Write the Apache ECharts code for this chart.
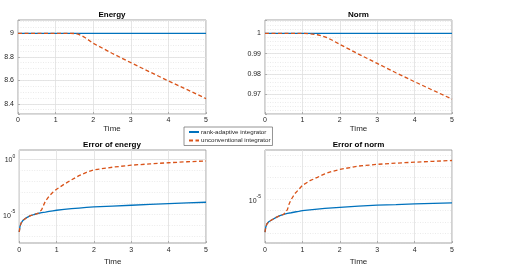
<!DOCTYPE html>
<html>
<head>
<meta charset="utf-8">
<script src="https://cdn.jsdelivr.net/npm/echarts@6/dist/echarts.min.js"></script>
<style>
html,body{margin:0;padding:0;background:#fff;}
#chart{width:506px;height:274px;}
</style>
</head>
<body>
<div id="chart"></div>
<script>
// ---- data ----
var seriesNames = ['rank-adaptive integrator', 'unconventional integrator'];
var timeTicks = [0, 1, 2, 3, 4, 5];

// top plots
var topTime = [0, 0.5, 1.0, 1.2, 1.4, 1.5, 1.6, 1.7, 1.8, 2.0, 2.5, 3.0, 3.5, 4.0, 4.5, 5.0];
var energyRank = [9, 9, 9, 9, 9, 9, 9, 9, 9, 9, 9, 9, 9, 9, 9, 9];
var energyUnconv = [9, 9, 9, 9, 8.9995, 8.998, 8.992, 8.978, 8.96, 8.915, 8.83, 8.75, 8.672, 8.594, 8.52, 8.444];
var normRank = [1, 1, 1, 1, 1, 1, 1, 1, 1, 1, 1, 1, 1, 1, 1, 1];
var normUnconv = [1, 1, 1, 0.9998, 0.9993, 0.9989, 0.9983, 0.9975, 0.9966, 0.99458, 0.9898, 0.9852, 0.9806, 0.9762, 0.9719, 0.96764];
var energyTicks = [8.4, 8.6, 8.8, 9];
var normTicks = [0.97, 0.98, 0.99, 1];

// bottom plots (errors, log scale)
var errTime = [0, 0.02, 0.05, 0.1, 0.2, 0.3, 0.4, 0.5, 0.55, 0.6, 0.65, 0.7, 0.8, 0.9, 1.0, 1.2, 1.4, 1.6, 1.8, 2.0, 2.5, 3.0, 3.5, 4.0, 4.5, 5.0];
var energyErrRank = [2.5e-7, 7.9e-7, 1.6e-6, 2.8e-6, 5.0e-6, 7.4e-6, 9.5e-6, 1.17e-5, 1.27e-5, 1.38e-5, 1.47e-5, 1.58e-5, 1.82e-5, 2.05e-5, 2.3e-5, 2.7e-5, 3.15e-5, 3.6e-5, 4.1e-5, 4.6e-5, 5.5e-5, 6.5e-5, 7.8e-5, 9.1e-5, 1.05e-4, 1.2e-4];
var energyErrUnconv = [2.5e-7, 7.9e-7, 1.6e-6, 2.8e-6, 5.0e-6, 7.4e-6, 9.5e-6, 1.17e-5, 1.32e-5, 2.5e-5, 6.3e-5, 1.5e-4, 4.3e-4, 9.5e-4, 1.8e-3, 5.0e-3, 1.26e-2, 3.0e-2, 6.0e-2, 0.1, 0.174, 0.263, 0.347, 0.437, 0.537, 0.63];
var normErrRank = [1.15e-8, 3.2e-8, 6.3e-8, 1.0e-7, 1.6e-7, 2.5e-7, 3.6e-7, 4.7e-7, 5.2e-7, 5.6e-7, 6.0e-7, 6.5e-7, 7.6e-7, 8.7e-7, 1.0e-6, 1.2e-6, 1.4e-6, 1.6e-6, 1.8e-6, 2.0e-6, 2.6e-6, 3.1e-6, 3.5e-6, 4.1e-6, 4.6e-6, 5.0e-6];
var normErrUnconv = [1.15e-8, 3.2e-8, 6.3e-8, 1.0e-7, 1.6e-7, 2.5e-7, 3.6e-7, 4.7e-7, 6.0e-7, 1.26e-6, 4.5e-6, 1.0e-5, 3.5e-5, 7.9e-5, 1.9e-4, 5.0e-4, 1.0e-3, 2.1e-3, 3.5e-3, 5.2e-3, 1.05e-2, 1.5e-2, 1.9e-2, 2.35e-2, 2.8e-2, 3.3e-2];
var energyErrTicks = [1, 1e-5];
var normErrTicks = [1e-5];
var titles = ['Energy', 'Norm', 'Error of energy', 'Error of norm'];

// ---- chart ----
var FONT = '"Liberation Sans", Arial, Helvetica, sans-serif';
var BLUE = '#0072BD', ORANGE = '#D95319';
var TXT = '#262626';
var MAJ = '#e0e0e0', MIN = '#d6d6d6';

function zip(xs, ys) { return xs.map(function (x, i) { return [x, ys[i]]; }); }
function supLabel(v) {
  var e = Math.round(Math.log10(v));
  return '{b|10}{s|' + e + '}';
}
function inList(v, list, tol) {
  for (var i = 0; i < list.length; i++) if (Math.abs(v - list[i]) < tol) return true;
  return false;
}

var grids = [
  {left: 18, top: 20, width: 188, height: 94},
  {left: 265, top: 20, width: 187, height: 94},
  {left: 18, top: 150, width: 188, height: 93},
  {left: 265, top: 150, width: 187, height: 93}
].map(function (g) {
  g.show = true; g.borderColor = '#8a8a8a'; g.borderWidth = 0.8; g.backgroundColor = 'transparent';
  return g;
});

function xAxisFor(i, bottomRow) {
  return {
    type: 'value', gridIndex: i, min: 0, max: 5, interval: 1,
    name: 'Time', nameLocation: 'middle', nameGap: bottomRow ? 14.5 : 8.5,
    nameTextStyle: {fontSize: 8, color: TXT, fontFamily: FONT},
    axisLine: {show: false},
    axisTick: {show: true, inside: true, length: 2, lineStyle: {color: '#8a8a8a', width: 0.6}},
    axisLabel: {fontSize: 7, color: TXT, fontFamily: FONT, margin: bottomRow ? 4 : 3,
      formatter: function (v) { return inList(v, timeTicks, 1e-6) ? String(v) : ''; }},
    splitLine: {show: true, lineStyle: {color: MAJ, width: 0.8}}
  };
}

var yLabelStyle = {fontSize: 7, color: TXT, fontFamily: FONT, margin: 4};

var yAxes = [
  // 0: energy major
  {type: 'value', gridIndex: 0, min: 8.313, max: 9.113, splitNumber: 5, position: 'left',
   axisLine: {show: false}, axisTick: {show: true, inside: true, length: 2, lineStyle: {color: '#8a8a8a', width: 0.6}},
   axisLabel: Object.assign({}, yLabelStyle, {formatter: function (v) { return inList(v, energyTicks, 1e-6) ? String(+v.toFixed(2)) : ''; }}),
   splitLine: {show: true, lineStyle: {color: MAJ, width: 0.8}}, z: 3},
  // 1: energy minor grid
  {type: 'value', gridIndex: 0, min: 8.313, max: 9.113, splitNumber: 16, position: 'left',
   axisLine: {show: false}, axisTick: {show: false}, axisLabel: {show: false},
   splitLine: {show: true, lineStyle: {color: MIN, width: 0.5, type: [1, 1.5]}}, z: 2},
  // 2: norm major
  {type: 'value', gridIndex: 1, min: 0.96032, max: 1.00656, splitNumber: 5, position: 'left',
   axisLine: {show: false}, axisTick: {show: true, inside: true, length: 2, lineStyle: {color: '#8a8a8a', width: 0.6}},
   axisLabel: Object.assign({}, yLabelStyle, {formatter: function (v) { return inList(v, normTicks, 1e-7) ? String(+v.toFixed(2)) : ''; }}),
   splitLine: {show: true, lineStyle: {color: MAJ, width: 0.8}}, z: 3},
  // 3: norm minor grid
  {type: 'value', gridIndex: 1, min: 0.96032, max: 1.00656, splitNumber: 23, position: 'left',
   axisLine: {show: false}, axisTick: {show: false}, axisLabel: {show: false},
   splitLine: {show: true, lineStyle: {color: MIN, width: 0.5, type: [1, 1.5]}}, z: 2},
  // 4: energy error log
  {type: 'log', logBase: 10, gridIndex: 2, min: 2.57e-8, max: 6.15, splitNumber: 8,
   axisLine: {show: false}, axisTick: {show: false},
   axisLabel: {fontSize: 7, color: TXT, fontFamily: FONT, margin: 4,
     formatter: function (v) { return inList(Math.log10(v), energyErrTicks.map(Math.log10), 0.01) ? supLabel(v) : ''; },
     rich: {b: {fontSize: 7, color: TXT, fontFamily: FONT, lineHeight: 10, verticalAlign: 'bottom'},
            s: {fontSize: 5, color: TXT, fontFamily: FONT, lineHeight: 10, verticalAlign: 'top'}}},
   splitLine: {show: true, lineStyle: {color: MIN, width: 0.5, type: [1, 1.5]}}},
  // 5: norm error log
  {type: 'log', logBase: 10, gridIndex: 3, min: 1.22e-9, max: 0.293, splitNumber: 8,
   axisLine: {show: false}, axisTick: {show: false},
   axisLabel: {fontSize: 7, color: TXT, fontFamily: FONT, margin: 4,
     formatter: function (v) { return inList(Math.log10(v), normErrTicks.map(Math.log10), 0.01) ? supLabel(v) : ''; },
     rich: {b: {fontSize: 7, color: TXT, fontFamily: FONT, lineHeight: 10, verticalAlign: 'bottom'},
            s: {fontSize: 5, color: TXT, fontFamily: FONT, lineHeight: 10, verticalAlign: 'top'}}},
   splitLine: {show: true, lineStyle: {color: MIN, width: 0.5, type: [1, 1.5]}}}
];

function solid(name, xi, yi, data, extra) {
  var s = {type: 'line', name: name, xAxisIndex: xi, yAxisIndex: yi, data: data,
    showSymbol: false, symbol: 'none', smooth: false, z: 3,
    lineStyle: {color: BLUE, width: 1.3}, itemStyle: {color: BLUE}};
  return Object.assign(s, extra || {});
}
function dashed(name, xi, yi, data) {
  return {type: 'line', name: name, xAxisIndex: xi, yAxisIndex: yi, data: data,
    showSymbol: false, symbol: 'none', smooth: false, z: 4,
    lineStyle: {color: ORANGE, width: 1.3, type: [4, 2.5]}, itemStyle: {color: ORANGE}};
}
function majorLines(ticks) {
  return {markLine: {silent: true, symbol: 'none', z: 1, animation: false,
    label: {show: false}, lineStyle: {color: MAJ, width: 0.8, type: 'solid'},
    data: ticks.map(function (t) { return {yAxis: t}; })}};
}

var series = [
  solid(seriesNames[0], 0, 0, zip(topTime, energyRank)),
  dashed(seriesNames[1], 0, 0, zip(topTime, energyUnconv)),
  solid(seriesNames[0], 1, 2, zip(topTime, normRank)),
  dashed(seriesNames[1], 1, 2, zip(topTime, normUnconv)),
  solid(seriesNames[0], 2, 4, zip(errTime, energyErrRank), majorLines(energyErrTicks)),
  dashed(seriesNames[1], 2, 4, zip(errTime, energyErrUnconv)),
  solid(seriesNames[0], 3, 5, zip(errTime, normErrRank), majorLines(normErrTicks)),
  dashed(seriesNames[1], 3, 5, zip(errTime, normErrUnconv))
];

var titlePos = [[112, 15], [358.5, 15], [112, 144.3], [358.5, 144.3]];
var graphics = titles.map(function (t, i) {
  return {type: 'text', x: titlePos[i][0], y: titlePos[i][1], z: 10,
    style: {text: t, align: 'center', verticalAlign: 'middle', fill: '#000',
      font: 'bold 8px ' + FONT}};
});

var chart = echarts.init(document.getElementById('chart'), null, {renderer: 'canvas'});
chart.setOption({
  animation: false,
  backgroundColor: '#fff',
  textStyle: {fontFamily: FONT},
  grid: grids,
  xAxis: [xAxisFor(0, false), xAxisFor(1, false), xAxisFor(2, true), xAxisFor(3, true)],
  yAxis: yAxes,
  series: series,
  graphic: graphics,
  legend: {
    data: seriesNames, orient: 'vertical', left: 184, top: 127,
    backgroundColor: '#fff', borderColor: '#7a7a7a', borderWidth: 0.8, borderRadius: 0,
    padding: [2, 2, 2, 4], itemWidth: 10, itemHeight: 6, itemGap: 2.5, z: 20,
    itemStyle: {color: 'transparent', borderColor: 'transparent', borderWidth: 0, opacity: 0},
    textStyle: {fontSize: 6.2, color: TXT, fontFamily: FONT, padding: [0, 0, 0, -3]},
    selectedMode: false
  }
});
</script>
</body>
</html>
